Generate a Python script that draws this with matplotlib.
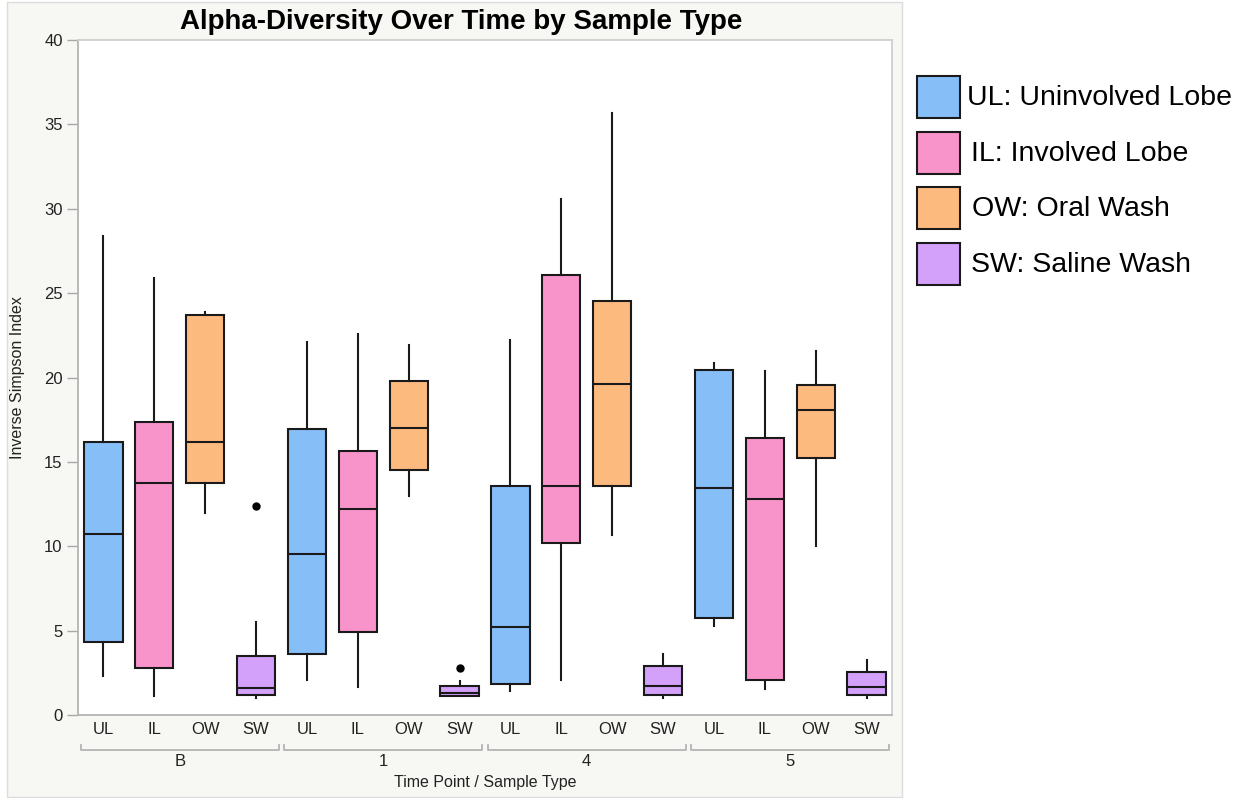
import matplotlib
matplotlib.use("Agg")
import matplotlib.pyplot as plt
from matplotlib.patches import Rectangle
import matplotlib.transforms as mtransforms

plt.rcParams['font.family'] = ['Liberation Sans', 'DejaVu Sans']

# Groups and sample types along the x axis
time_points = ['B', '1', '4', '5']
sample_types = ['UL', 'IL', 'OW', 'SW']
legend_labels = ['UL: Uninvolved Lobe', 'IL: Involved Lobe', 'OW: Oral Wash', 'SW: Saline Wash']
type_colors = ['#86bff8', '#f994ca', '#fdba7f', '#d3a0fa']

# Box statistics, one value per box in order B(UL,IL,OW,SW), 1(...), 4(...), 5(...)
whisker_low = [2.3, 1.1, 12.0, 1.0,
               2.1, 1.65, 12.95, 1.1,
               1.45, 2.1, 10.65, 1.0,
               5.25, 1.55, 10.0, 1.0]
q1 = [4.35, 2.8, 13.75, 1.2,
      3.6, 4.9, 14.5, 1.1,
      1.85, 10.2, 13.55, 1.2,
      5.75, 2.05, 15.25, 1.2]
median = [10.7, 13.75, 16.2, 1.6,
          9.55, 12.2, 17.0, 1.3,
          5.2, 13.55, 19.6, 1.7,
          13.45, 12.8, 18.1, 1.65]
q3 = [16.2, 17.35, 23.7, 3.5,
      16.95, 15.65, 19.8, 1.7,
      13.55, 26.05, 24.55, 2.9,
      20.45, 16.4, 19.55, 2.55]
whisker_high = [28.4, 25.9, 23.9, 5.5,
                22.1, 22.6, 21.9, 2.0,
                22.2, 30.6, 35.7, 3.6,
                20.85, 20.4, 21.6, 3.25]
outliers = [[], [], [], [12.4],
            [], [], [], [2.8],
            [], [], [], [],
            [], [], [], []]

W, H = 1248, 798
fig = plt.figure(figsize=(W / 100, H / 100), dpi=100)
fig.patch.set_facecolor('white')

# light panel behind the chart
fig.patches.append(Rectangle((7 / W, 1 / H), 895 / W, 795 / H, transform=fig.transFigure,
                             facecolor='#f7f7f4', edgecolor='#dcdcdc', lw=1.0, zorder=-10))

ax = fig.add_axes([78 / W, (H - 715) / H, (892 - 78) / W, (715 - 40) / H])
ax.set_zorder(1)
ax.set_facecolor('white')

stats = []
for i in range(len(median)):
    stats.append(dict(whislo=whisker_low[i], q1=q1[i], med=median[i], q3=q3[i],
                      whishi=whisker_high[i], fliers=outliers[i]))

positions = list(range(len(stats)))
bp = ax.bxp(stats, positions=positions, widths=0.75, patch_artist=True, showcaps=False,
            boxprops=dict(edgecolor='#1a1a1a', linewidth=1.5),
            medianprops=dict(color='#1a1a1a', linewidth=1.5),
            whiskerprops=dict(color='#1a1a1a', linewidth=1.5),
            flierprops=dict(marker='o', markerfacecolor='black', markeredgecolor='black',
                            markersize=5))
for i, box in enumerate(bp['boxes']):
    box.set_facecolor(type_colors[i % 4])

ax.set_xlim(-0.5, 15.5)
ax.set_ylim(0, 40)
ax.set_yticks(range(0, 41, 5))
ax.tick_params(axis='y', direction='out', length=8, width=1, color='#a8a8a8',
               labelsize=12, labelcolor='#222222', pad=3)
ax.set_xticks(positions)
ax.set_xticklabels(sample_types * len(time_points))
ax.tick_params(axis='x', length=0, labelsize=12, labelcolor='#222222', pad=5)

for side in ['left', 'bottom']:
    ax.spines[side].set_color('#b4b4b4')
    ax.spines[side].set_linewidth(1.3)
for side in ['top', 'right']:
    ax.spines[side].set_color('#cfcfcf')
    ax.spines[side].set_linewidth(1.3)

# group brackets under the sample-type labels
trans = mtransforms.blended_transform_factory(ax.transData, ax.transAxes)
y_br = -35 / 675
y_up = -30 / 675
for g, tp in enumerate(time_points):
    x0, x1 = g * 4 - 0.45, g * 4 + 3.45
    ax.plot([x0, x0, x1, x1], [y_up, y_br, y_br, y_up], transform=trans, clip_on=False,
            color='#b4b4b4', lw=1.3)
    ax.text(g * 4 + 1.5, -47 / 675, tp, transform=trans, ha='center', va='center',
            fontsize=12, color='#222222')

ax.text(0.5, -67 / 675, 'Time Point / Sample Type', transform=ax.transAxes,
        ha='center', va='center', fontsize=11.5, color='#222222')
fig.text(18 / W, 1 - 378 / H, 'Inverse Simpson Index', rotation=90, ha='center',
         va='center', fontsize=11.5, color='#222222')
fig.text(461 / W, 1 - 22 / H, 'Alpha-Diversity Over Time by Sample Type', ha='center',
         va='center', fontsize=20, fontweight='bold', color='black')

# legend drawn as patches outside the panel
box_tops = [76, 132, 187, 243]
text_x = [967, 971, 972, 971]
for k in range(len(sample_types)):
    fig.patches.append(Rectangle((917 / W, 1 - (box_tops[k] + 42) / H), 43 / W, 42 / H,
                                 transform=fig.transFigure, facecolor=type_colors[k],
                                 edgecolor='#1a1a1a', lw=1.5))
    fig.text(text_x[k] / W, 1 - (box_tops[k] + 22) / H, legend_labels[k], ha='left',
             va='center', fontsize=20.5, color='black')

fig.savefig('out.png', dpi=100)
